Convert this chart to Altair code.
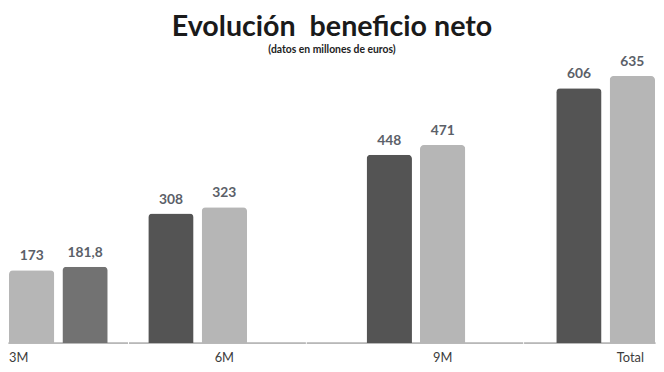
import altair as alt
import pandas as pd

grupos = ["3M", "6M", "9M", "Total"]
series = ["Serie 1", "Serie 2"]
valores_serie1 = [173, 308, 448, 606]
valores_serie2 = [181.8, 323, 471, 635]

def fmt(v):
    s = ("%.1f" % v).rstrip("0").rstrip(".")
    return s.replace(".", ",")

rows = []
for g, a, b in zip(grupos, valores_serie1, valores_serie2):
    rows.append({"grupo": g, "serie": series[0], "valor": a, "etiqueta": fmt(a)})
    rows.append({"grupo": g, "serie": series[1], "valor": b, "etiqueta": fmt(b)})
df = pd.DataFrame(rows)

FONT = "Lato"

OSCURO = "#545454"
CLARO = "#b6b6b6"
MEDIO = "#727272"

def fill_for(g, s):
    if g == "3M":
        return CLARO if s == series[0] else MEDIO
    return OSCURO if s == series[0] else CLARO

H = 286
YMAX = 672

panel_cfg = {
    "3M": dict(width=120, rng=[0, 100], at=0, offset=-23, align="left"),
    "6M": dict(width=178, rng=[19, 119], at=1, offset=0, align="center"),
    "9M": dict(width=218, rng=[60, 160], at=1, offset=0, align="center"),
    "Total": dict(width=132, rng=[32, 132], at=1, offset=-2, align="center"),
}

def panel(g):
    c = panel_cfg[g]
    base = alt.Chart(df).transform_filter(alt.datum.grupo == g)
    x = alt.X(
        "serie:N",
        scale=alt.Scale(domain=series, range=c["rng"], paddingInner=0.15, paddingOuter=0),
        axis=alt.Axis(
            title=None, domain=False, ticks=False, labelAngle=0,
            labelExpr="datum.value == '%s' ? '%s' : ''" % (series[c["at"]], g),
            labelOffset=c["offset"], labelAlign=c["align"],
            labelFont=FONT, labelFontSize=13, labelColor="#3c3c3c",
            labelPadding=9,
        ),
    )
    y = alt.Y("valor:Q", scale=alt.Scale(domain=[0, YMAX], nice=False), axis=None)
    rule = base.mark_rule(color="#a8a8a8", strokeWidth=1, strokeCap="square").encode(
        y=alt.Y(datum=0, axis=None, scale=alt.Scale(domain=[0, YMAX], nice=False))
    )
    bars = [
        base.transform_filter(alt.datum.serie == s)
        .mark_bar(fill=fill_for(g, s), cornerRadiusTopLeft=4, cornerRadiusTopRight=4)
        .encode(x=x, y=y)
        for s in series
    ]
    text = base.mark_text(
        baseline="bottom", dy=-7, font=FONT, fontSize=14, fontWeight="bold",
        color="#5b6068",
    ).encode(x=x, y=y, text="etiqueta:N")
    return alt.layer(rule, *bars, text).properties(width=c["width"], height=H)

chart = (
    alt.hconcat(*[panel(g) for g in grupos], spacing=0)
    .properties(
        padding={"top": 3, "left": 0, "right": 0, "bottom": 0},
        title=alt.Title(
            text="Evolución\u00a0 beneficio neto",
            subtitle="(datos en millones de euros)",
            anchor="middle",
            font=FONT, fontSize=29, fontWeight="bold", color="#1a1a1a",
            subtitleFont=FONT, subtitleFontSize=10.5, subtitleFontWeight="bold",
            subtitleColor="#222222", subtitlePadding=3, offset=0,
        ),
    )
    .configure_view(stroke=None)
)

chart.save("out.html", embed_options={"renderer": "svg", "actions": False})
